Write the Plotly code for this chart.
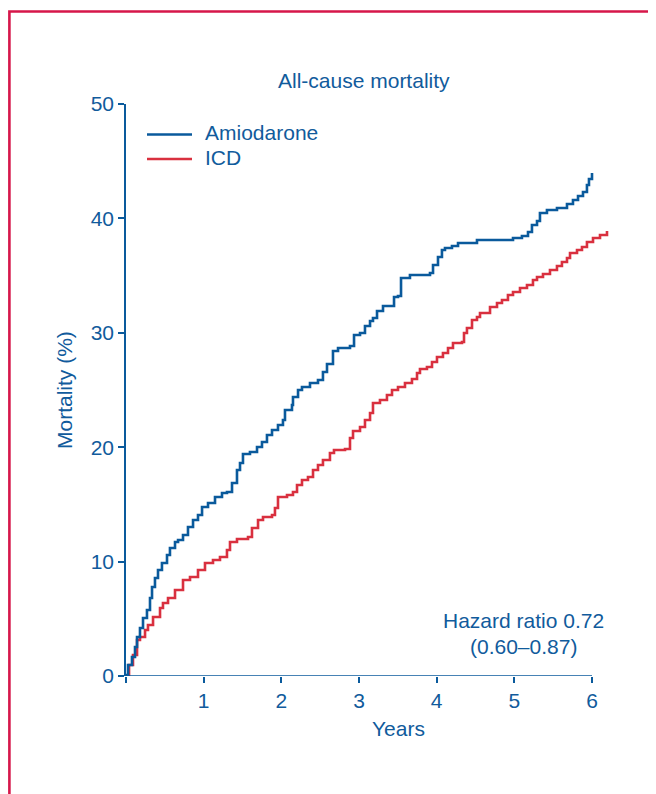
import plotly.graph_objects as go

# ---- data ----
amio_years = [0, 0.013, 0.026, 0.077, 0.116, 0.142, 0.180, 0.219, 0.270, 0.309, 0.335, 0.373, 0.412,
              0.463, 0.528, 0.566, 0.631, 0.670, 0.734, 0.798, 0.863, 0.927, 0.979, 1.056, 1.146,
              1.236, 1.300, 1.365, 1.429, 1.468, 1.506, 1.596, 1.687, 1.751, 1.815, 1.880, 1.957,
              2.021, 2.047, 2.137, 2.150, 2.215, 2.266, 2.369, 2.472, 2.536, 2.588, 2.665, 2.730,
              2.884, 2.936, 3.013, 3.077, 3.142, 3.180, 3.232, 3.309, 3.451, 3.502, 3.541, 3.656,
              3.914, 3.953, 4.017, 4.068, 4.107, 4.197, 4.275, 4.519, 4.983, 5.098, 5.176, 5.227,
              5.292, 5.330, 5.420, 5.549, 5.678, 5.755, 5.820, 5.884, 5.935, 5.961, 6.0]
amio_mort = [0, 0.09, 0.96, 1.66, 2.53, 3.41, 4.20, 5.07, 5.77, 6.82, 7.78, 8.57, 9.27,
             9.88, 10.58, 11.19, 11.71, 11.89, 12.33, 13.02, 13.64, 14.07, 14.77, 15.12, 15.65,
             16.0, 16.08, 16.87, 18.01, 18.62, 19.41, 19.58, 20.02, 20.45, 21.07, 21.50, 21.94,
             22.38, 23.25, 23.69, 24.39, 25.0, 25.26, 25.61, 25.87, 26.57, 27.27, 28.41, 28.67,
             28.85, 29.81, 29.98, 30.59, 31.03, 31.29, 31.91, 32.34, 33.13, 33.22, 34.79, 35.05,
             35.23, 35.93, 36.63, 37.24, 37.41, 37.59, 37.85, 38.11, 38.29, 38.46, 38.81, 39.42,
             39.77, 40.47, 40.73, 40.91, 41.26, 41.61, 41.96, 42.31, 42.92, 43.44, 43.97]

icd_years = [0, 0.039, 0.090, 0.142, 0.180, 0.245, 0.283, 0.348, 0.438, 0.476, 0.541, 0.631,
             0.734, 0.824, 0.927, 1.017, 1.120, 1.210, 1.300, 1.339, 1.429, 1.571, 1.622, 1.700,
             1.764, 1.880, 1.918, 1.957, 2.073, 2.150, 2.202, 2.266, 2.343, 2.408, 2.472, 2.536,
             2.626, 2.678, 2.820, 2.884, 2.923, 3.013, 3.077, 3.142, 3.180, 3.270, 3.360, 3.425,
             3.502, 3.592, 3.682, 3.747, 3.785, 3.875, 3.940, 4.004, 4.081, 4.146, 4.210, 4.326,
             4.352, 4.390, 4.455, 4.519, 4.558, 4.687, 4.777, 4.841, 4.918, 4.983, 5.073, 5.163,
             5.240, 5.292, 5.369, 5.459, 5.549, 5.613, 5.678, 5.717, 5.807, 5.871, 5.935, 6.013,
             6.103, 6.193]
icd_mort = [0, 0.96, 1.84, 3.15, 3.41, 4.02, 4.46, 5.16, 5.94, 6.38, 6.82, 7.52,
            8.39, 8.65, 9.27, 9.88, 10.14, 10.40, 11.01, 11.71, 11.98, 12.15, 12.94, 13.64,
            13.90, 14.07, 14.69, 15.65, 15.82, 16.08, 16.70, 17.13, 17.40, 18.01, 18.44, 18.88,
            19.49, 19.76, 19.84, 20.80, 21.42, 21.77, 22.38, 22.99, 23.86, 24.13, 24.56, 25.0,
            25.26, 25.61, 25.96, 26.49, 26.84, 27.01, 27.45, 27.88, 28.23, 28.67, 29.11, 29.20,
            29.98, 30.42, 31.12, 31.38, 31.73, 32.26, 32.6, 32.87, 33.30, 33.57, 33.92, 34.18,
            34.62, 34.88, 35.14, 35.49, 35.84, 36.19, 36.54, 36.98, 37.24, 37.50, 37.94, 38.29,
            38.55, 38.9]

x_ticks = [0, 1, 2, 3, 4, 5, 6]
x_tick_labels = ["", "1", "2", "3", "4", "5", "6"]
y_ticks = [0, 10, 20, 30, 40, 50]

title_text = "All-cause mortality"
x_title = "Years"
y_title = "Mortality (%)"
series_names = ["Amiodarone", "ICD"]
hazard_lines = ["Hazard ratio 0.72", "(0.60–0.87)"]

# ---- styles ----
BLUE = "#0a5a9c"
TEXT = "#115b9c"
RED = "#d9303f"
FRAME = "#d6174a"
FONT = "Liberation Sans, Arial, sans-serif"
FS = 21

W, H = 656, 794
OFF = 8  # page body margin: page coords = figure coords + OFF
# plot area in page coordinates
P_LEFT, P_RIGHT, P_TOP, P_BOTTOM = 126, 611, 104, 676
ML = P_LEFT - OFF
MT = P_TOP - OFF
MR = W - (P_RIGHT - OFF)
MB = H - (P_BOTTOM - OFF)
PW = P_RIGHT - P_LEFT
PH = P_BOTTOM - P_TOP
X_MAX = 6 * PW / 466.0


def px(xp):
    return (xp - P_LEFT) / PW


def py(yp):
    return (P_BOTTOM - yp) / PH


fig = go.Figure()
fig.add_trace(go.Scatter(x=icd_years, y=icd_mort, mode="lines", line_shape="hv",
                         line=dict(color=RED, width=2.6), name=series_names[1], showlegend=False))
fig.add_trace(go.Scatter(x=amio_years, y=amio_mort, mode="lines", line_shape="hv",
                         line=dict(color=BLUE, width=2.6), name=series_names[0], showlegend=False))

shapes = [
    dict(type="line", xref="x", yref="y", x0=0, x1=6, y0=0, y1=0,
         line=dict(color=BLUE, width=1.5)),
    dict(type="rect", xref="paper", yref="paper", x0=px(9.4), x1=px(690), y0=py(830), y1=py(11.5),
         line=dict(color=FRAME, width=2.6)),
    dict(type="line", xref="paper", yref="paper", x0=px(147), x1=px(192), y0=py(134.5), y1=py(134.5),
         line=dict(color=BLUE, width=2.6)),
    dict(type="line", xref="paper", yref="paper", x0=px(147), x1=px(192), y0=py(159), y1=py(159),
         line=dict(color=RED, width=2.6)),
]

annotations = [
    dict(text=title_text, xref="paper", yref="paper", x=px(364), y=py(80),
         xanchor="center", yanchor="middle", showarrow=False),
    dict(text=x_title, xref="paper", yref="paper", x=px(398), y=py(728),
         xanchor="center", yanchor="middle", showarrow=False),
    dict(text=y_title, xref="paper", yref="paper", x=px(64), y=py(390), textangle=-90,
         xanchor="center", yanchor="middle", showarrow=False),
    dict(text=series_names[0], xref="paper", yref="paper", x=px(203), y=py(132),
         xanchor="left", yanchor="middle", showarrow=False),
    dict(text=series_names[1], xref="paper", yref="paper", x=px(203), y=py(158),
         xanchor="left", yanchor="middle", showarrow=False),
    dict(text=hazard_lines[0], xref="paper", yref="paper", x=px(523), y=py(620),
         xanchor="center", yanchor="middle", showarrow=False),
    dict(text=hazard_lines[1], xref="paper", yref="paper", x=px(523), y=py(646),
         xanchor="center", yanchor="middle", showarrow=False),
]

fig.update_layout(
    width=W, height=H,
    margin=dict(l=ML, r=MR, t=MT, b=MB, pad=0),
    paper_bgcolor="white", plot_bgcolor="white",
    font=dict(family=FONT, size=FS, color=TEXT),
    showlegend=False,
    shapes=shapes,
    annotations=annotations,
    xaxis=dict(range=[0, X_MAX], showgrid=False, zeroline=False, showline=False,
               tickmode="array", tickvals=x_ticks, ticktext=x_tick_labels,
               ticks="outside", ticklen=6, tickwidth=1.5, tickcolor=BLUE,
               tickfont=dict(size=FS, color=TEXT, family=FONT), fixedrange=True),
    yaxis=dict(range=[0, 50], showgrid=False, zeroline=False, showline=True, linecolor=BLUE,
               linewidth=1.5, tickmode="array", tickvals=y_ticks,
               ticks="outside", ticklen=6, tickwidth=1.5, tickcolor=BLUE,
               tickfont=dict(size=FS, color=TEXT, family=FONT), fixedrange=True),
)

fig.write_html("out.html")
